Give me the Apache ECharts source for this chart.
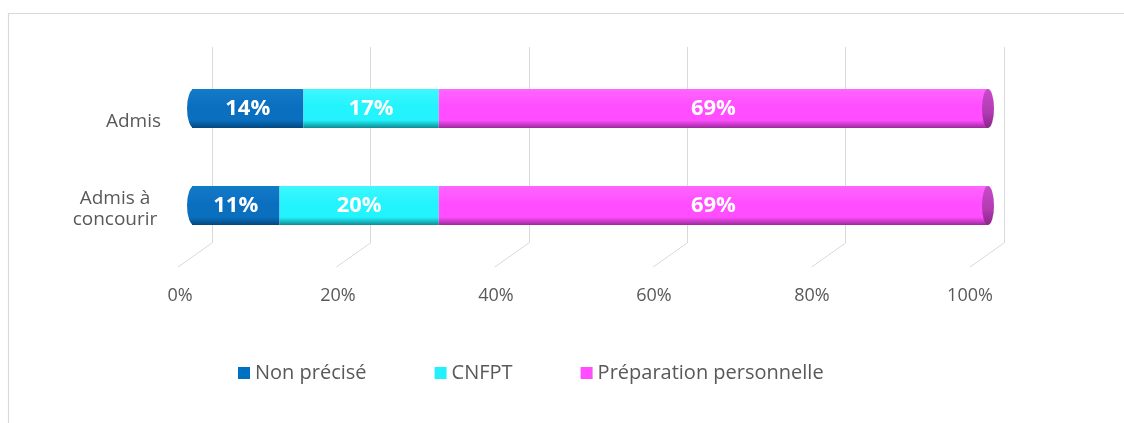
<!DOCTYPE html>
<html><head><meta charset="utf-8">
<script src="https://cdn.jsdelivr.net/npm/echarts@6/dist/echarts.min.js"></script>
<style>html,body{margin:0;padding:0;background:#fff}#c{width:1124px;height:423px}</style>
</head><body><div id="c"></div>
<script>
const categories = ['Admis', 'Admis à concourir'];
const nonPrecise = [14, 11];
const cnfpt = [17, 20];
const preparation = [69, 69];
const tickValues = [0, 20, 40, 60, 80, 100];
const seriesNames = ['Non précisé', 'CNFPT', 'Préparation personnelle'];

const FONT = 'Open Sans';
const G = echarts.graphic;
function cyl(top, mid, bottom) {
  return new G.LinearGradient(0, 0, 0, 1, [
    {offset: 0, color: top}, {offset: 0.45, color: mid}, {offset: 0.8, color: mid}, {offset: 1, color: bottom}
  ]);
}
const baseColors = ['#0070C0', '#22F1FB', '#FF4DFF'];
const fills = [
  cyl('#137ac8', '#0a6fbf', '#03487e'),
  cyl('#3ef7ff', '#22f3fd', '#0f8b93'),
  cyl('#ff66ff', '#ff4dff', '#9a2a9a')
];
const BAR_H = 39;
const totals = categories.map((c, i) => nonPrecise[i] + cnfpt[i] + preparation[i]);

function ellipse(cx, cy, rx, ry, fill) {
  return {type: 'circle', x: cx, y: cy, scaleX: rx / ry, shape: {cx: 0, cy: 0, r: ry}, style: {fill: fill}};
}

const chart = echarts.init(document.getElementById('c'), null, {renderer: 'canvas'});
const barData = [nonPrecise, cnfpt, preparation];
const option = {
  animation: false,
  textStyle: {fontFamily: FONT},
  graphic: [{type: 'rect', shape: {x: 8.5, y: 13.5, width: 1300, height: 600}, style: {fill: 'none', stroke: '#d9d9d9', lineWidth: 1.2}, z: -10}],
  grid: [
    {left: 192, right: 136, top: 60, bottom: 169},
    {left: 212, right: 120, top: 47, bottom: 180},
    {left: 180, right: 154, top: 47, bottom: 153}
  ],
  xAxis: [
    {gridIndex: 0, type: 'value', min: 0, max: 100, show: false},
    {gridIndex: 1, type: 'value', min: 0, max: 100, interval: 20, axisLabel: {show: false}, axisLine: {show: false}, axisTick: {show: false},
     splitLine: {show: true, lineStyle: {color: '#d9d9d9', width: 1}}},
    {gridIndex: 2, type: 'value', min: 0, max: 100, interval: 20, axisLine: {show: false}, axisTick: {show: false}, splitLine: {show: false},
     axisLabel: {formatter: '{value}%', color: '#595959', fontSize: 18, margin: 17, fontFamily: FONT}}
  ],
  yAxis: [
    {gridIndex: 0, type: 'category', data: categories, inverse: true, axisLine: {show: false}, axisTick: {show: false},
     axisLabel: {color: '#595959', fontSize: 19, margin: 31, fontFamily: FONT, lineHeight: 21, padding: [7, 0, 0, 0],
       formatter: function (v) { return v.indexOf(' à ') > 0 ? '{c|' + v.replace(' à ', ' à}\n{c|') + '}' : '{a|' + v + '}'; },
       rich: {
         c: {width: 92, align: 'center', fontSize: 19, color: '#595959', fontFamily: FONT, lineHeight: 21},
         a: {fontSize: 19, color: '#595959', fontFamily: FONT, lineHeight: 21, padding: [20, 0, 0, 0]}
       }}},
    {gridIndex: 1, type: 'value', min: 0, max: 1, show: false},
    {gridIndex: 2, type: 'value', min: 0, max: 1, show: false}
  ],
  legend: {
    left: 233, top: 358, icon: 'rect', itemWidth: 12, itemHeight: 12, itemGap: 68,
    textStyle: {fontSize: 20, color: '#595959', fontFamily: FONT},
    data: seriesNames.map((n, i) => ({name: n, itemStyle: {color: baseColors[i]}}))
  },
  series: [
    {type: 'custom', name: 'grid3d', xAxisIndex: 1, yAxisIndex: 1, silent: true, z: 0,
     data: tickValues.map(v => [v, 0]),
     renderItem: function (params, api) {
       const p = api.coord([api.value(0), 0]);
       return {type: 'line', shape: {x1: p[0], y1: p[1], x2: p[0] - 34, y2: p[1] + 24}, style: {stroke: '#d9d9d9', lineWidth: 1}};
     }},
    {type: 'custom', name: 'leftCap', xAxisIndex: 0, yAxisIndex: 0, silent: true, z: 1,
     data: categories.map((c, i) => [0, i]),
     renderItem: function (params, api) {
       const p = api.coord([0, api.value(1)]);
       return ellipse(p[0] + 2, p[1], 7, BAR_H / 2, fills[0]);
     }}
  ].concat(seriesNames.map((n, k) => ({
    type: 'bar', name: n, stack: 'total', xAxisIndex: 0, yAxisIndex: 0, barWidth: BAR_H, z: 2,
    itemStyle: {color: fills[k]},
    label: {show: true, position: 'inside', color: '#ffffff', fontSize: 22, fontWeight: 'bold', fontFamily: FONT, formatter: '{c}%'},
    data: barData[k]
  }))).concat([
    {type: 'custom', name: 'rightCap', xAxisIndex: 0, yAxisIndex: 0, silent: true, z: 3,
     data: categories.map((c, i) => [totals[i], i]),
     renderItem: function (params, api) {
       const p = api.coord([api.value(0), api.value(1)]);
       return ellipse(p[0], p[1], 6, BAR_H / 2, new G.LinearGradient(0, 0, 0, 1, [
         {offset: 0, color: '#c84ac8'}, {offset: 0.6, color: '#b23bb2'}, {offset: 1, color: '#8a258a'}]));
     }}
  ])
};
chart.setOption(option);
</script></body></html>
